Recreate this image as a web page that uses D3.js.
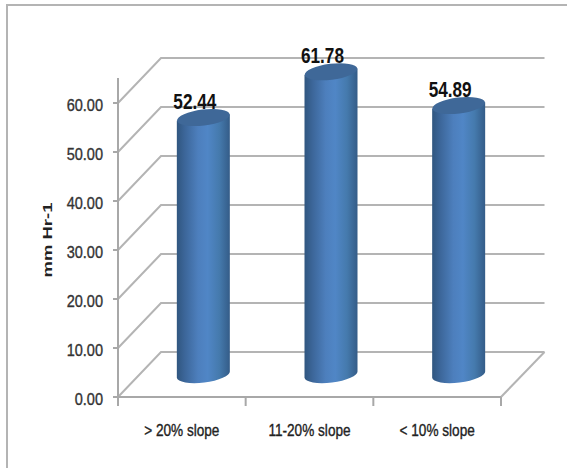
<!DOCTYPE html>
<html>
<head>
<meta charset="utf-8">
<script src="https://cdn.jsdelivr.net/npm/d3@7/dist/d3.min.js"></script>
<style>
html,body{margin:0;padding:0;background:#fff}
svg{display:block}
text{font-family:"Liberation Sans",sans-serif}
</style>
</head>
<body>
<svg id="chart" width="567" height="468"></svg>
<script>
const categories = ["> 20% slope", "11-20% slope", "< 10% slope"];
const infiltration = [52.44, 61.78, 54.89];
const yTicks = [0, 10, 20, 30, 40, 50, 60];
const yLabel = "mm Hr-1";

const svg = d3.select("#chart");
const W = 567, H = 468;
svg.append("rect").attr("width", W).attr("height", H).attr("fill", "#fff");

// Chart frame: only the top and left edges fall inside the page
svg.append("path")
  .attr("d", d3.line()([[7, H], [7, 5], [W, 5]]))
  .attr("fill", "none").attr("stroke", "#b4b4b4").attr("stroke-width", 2);

const y = d3.scaleLinear().domain([0, 60]).range([397, 103]);
const x = d3.scaleBand().domain(categories).range([118, 501]);
const depth = { dx: 43, dy: -45 };

const defs = svg.append("defs");
const grad = defs.append("linearGradient").attr("id", "cyl")
  .attr("x1", 0).attr("x2", 1).attr("y1", 0).attr("y2", 0);
[[0, "#30567f"], [0.15, "#3c6699"], [0.4, "#4d7fbd"], [0.58, "#5086c6"], [0.8, "#457aad"], [1, "#345c88"]]
  .forEach(([o, c]) => grad.append("stop").attr("offset", o).attr("stop-color", c));

const gridColor = "#b4b4b4", axisColor = "#a8a8a8";
const walls = svg.append("g");

// Back wall gridlines with their diagonal returns to the front axis
yTicks.forEach(t => {
  walls.append("path")
    .attr("d", d3.line()([[x.range()[0], y(t)], [x.range()[0] + depth.dx, y(t) + depth.dy], [544.5, y(t) + depth.dy]]))
    .attr("fill", "none").attr("stroke", gridColor).attr("stroke-width", 2);
});

// Floor edge on the right
walls.append("path")
  .attr("d", d3.line()([[501, y(0)], [544.5, y(0) + depth.dy]]))
  .attr("fill", "none").attr("stroke", gridColor).attr("stroke-width", 2);

// Value axis, drawn up past the last tick
const axisTop = 78;
walls.append("line").attr("x1", 118).attr("x2", 118).attr("y1", axisTop).attr("y2", y(0))
  .attr("stroke", axisColor).attr("stroke-width", 2);
yTicks.forEach(t => {
  walls.append("line").attr("x1", 113).attr("x2", 118).attr("y1", y(t)).attr("y2", y(t))
    .attr("stroke", axisColor).attr("stroke-width", 2);
});

// Category axis with ticks on the band boundaries
walls.append("line").attr("x1", 118).attr("x2", 501).attr("y1", y(0)).attr("y2", y(0))
  .attr("stroke", axisColor).attr("stroke-width", 2);
[x.range()[0], ...categories.map(c => x(c) + x.bandwidth())].forEach(px => {
  walls.append("line").attr("x1", px).attr("x2", px).attr("y1", y(0)).attr("y2", 406)
    .attr("stroke", axisColor).attr("stroke-width", 2);
});

// Cylinders sit halfway through the floor depth
const rx = 26.5, ry = 8, tilt = -7;
const slope = Math.tan(tilt * Math.PI / 180) * rx;
const bars = svg.append("g");
categories.forEach((c, i) => {
  const cx = x(c) + x.bandwidth() / 2 + depth.dx / 2;
  const yBase = y(0) + depth.dy / 2;
  const yTop = y(infiltration[i]) + depth.dy / 2;
  const l = cx - rx, r = cx + rx;
  bars.append("path")
    .attr("d", `M${l},${yTop - slope} L${l},${yBase - slope} A${rx},${ry} ${tilt} 0 0 ${r},${yBase + slope} L${r},${yTop + slope} Z`)
    .attr("fill", "url(#cyl)");
  bars.append("ellipse")
    .attr("cx", cx).attr("cy", yTop).attr("rx", rx).attr("ry", ry)
    .attr("transform", `rotate(${tilt} ${cx} ${yTop})`)
    .attr("fill", "#3f6898");
});

// Squeezes a text selection horizontally to get a condensed face
function condense(sel, k) {
  sel.attr("lengthAdjust", "spacingAndGlyphs")
    .attr("textLength", function () { return this.getComputedTextLength() * k; });
}

// Value labels above each cylinder
svg.append("g").selectAll("text").data(categories).join("text")
  .attr("x", c => x(c) + x.bandwidth() / 2 + depth.dx / 2 - 8.5)
  .attr("y", (c, i) => y(infiltration[i]) + depth.dy / 2 - 8.5)
  .attr("text-anchor", "middle")
  .attr("font-size", 22).attr("font-weight", 700).attr("fill", "#111")
  .text((c, i) => infiltration[i].toFixed(2))
  .call(condense, 0.78);

// Tick labels
svg.append("g").selectAll("text").data(yTicks).join("text")
  .attr("x", 103).attr("y", t => y(t) + 7.5).attr("text-anchor", "end")
  .attr("font-size", 16.5).attr("fill", "#333")
  .attr("stroke", "#333").attr("stroke-width", 0.35)
  .text(t => t.toFixed(2))
  .call(condense, 0.88);

svg.append("g").selectAll("text").data(categories).join("text")
  .attr("x", c => x(c) + x.bandwidth() / 2)
  .attr("y", 436)
  .attr("text-anchor", "middle")
  .attr("font-size", 16).attr("fill", "#222")
  .attr("stroke", "#222").attr("stroke-width", 0.35)
  .text(c => c)
  .call(condense, 0.85);

svg.append("text")
  .attr("transform", "translate(52,240) rotate(-90)")
  .attr("text-anchor", "middle")
  .attr("font-size", 12.5).attr("font-weight", 700).attr("fill", "#222")
  .attr("textLength", 75).attr("lengthAdjust", "spacingAndGlyphs")
  .text(yLabel);
</script>
</body>
</html>
